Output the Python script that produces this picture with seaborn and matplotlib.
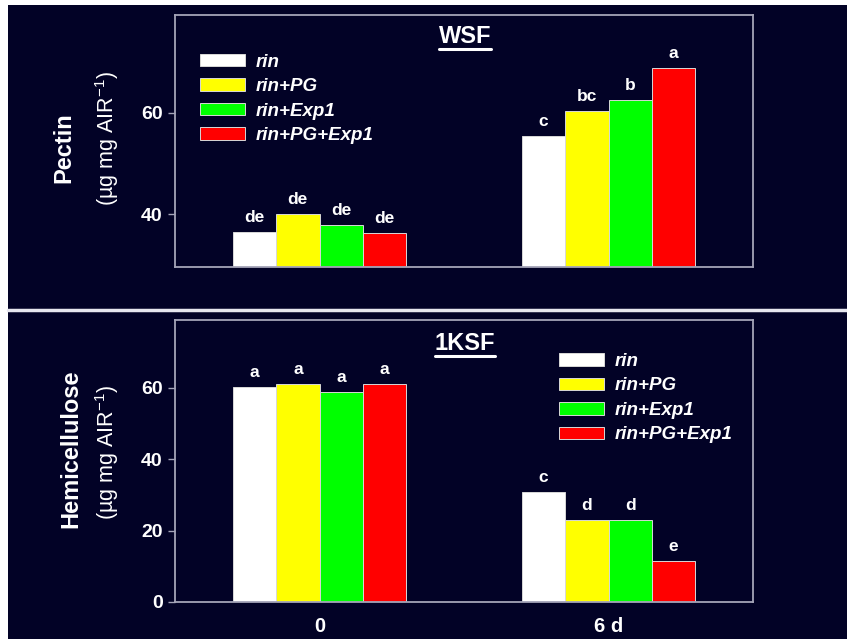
import matplotlib
matplotlib.use("Agg")
import matplotlib.pyplot as plt
import numpy as np
import pandas as pd
import seaborn as sns
from matplotlib.lines import Line2D
from matplotlib.patches import Rectangle

# data
days = ["0", "6 d"]
genotypes = ["rin", "rin+PG", "rin+Exp1", "rin+PG+Exp1"]
pectin_0 = [36.5, 40.1, 37.8, 36.4]
pectin_6d = [55.5, 60.3, 62.6, 68.8]
pectin_letters = [["de", "c"], ["de", "bc"], ["de", "b"], ["de", "a"]]
hemi_0 = [60.3, 61.0, 58.9, 61.1]
hemi_6d = [30.8, 22.9, 22.9, 11.5]
hemi_letters = [["a", "c"], ["a", "d"], ["a", "d"], ["a", "e"]]

colors = ["#ffffff", "#ffff00", "#00ff00", "#ff0000"]
bg = "#020226"
spine_c = "#a4a4b8"

sns.set_style("ticks")
plt.rcParams["font.family"] = ["Liberation Sans", "DejaVu Sans"]
plt.rcParams["mathtext.fontset"] = "custom"
plt.rcParams["mathtext.rm"] = "Liberation Sans"


def long_table(v0, v6):
    rows = []
    for g, a, b in zip(genotypes, v0, v6):
        rows.append({"day": days[0], "genotype": g, "value": a})
        rows.append({"day": days[1], "genotype": g, "value": b})
    return pd.DataFrame(rows)


fig = plt.figure(figsize=(8.47, 6.39), dpi=100)
fig.patch.set_facecolor("white")
fig.patches.append(Rectangle((8 / 847, 0), 1, 634 / 639, transform=fig.transFigure,
                             facecolor=bg, edgecolor="none", zorder=-10))
fig.lines.append(Line2D([8 / 847, 1], [1 - 310 / 639] * 2, transform=fig.transFigure,
                        color="#e6e6ee", lw=2.5))

ax1 = fig.add_axes([175 / 847, 1 - 267 / 639, 578 / 847, 252 / 639])
ax2 = fig.add_axes([175 / 847, 1 - 602 / 639, 578 / 847, 282 / 639])


def draw_panel(ax, df, letters, ylim, yticks, title, title_y, leg_anchor):
    sns.barplot(data=df, x="day", y="value", hue="genotype", order=days,
                hue_order=genotypes, palette=colors, width=0.6, gap=0,
                edgecolor="#d8d8d8", linewidth=0.7, saturation=1, ax=ax)
    ax.set_facecolor(bg)
    ax.set_ylim(*ylim)
    ax.set_xlim(-0.5, 1.5)
    ax.set_yticks(yticks)
    ax.set_xlabel("")
    ax.set_ylabel("")
    for s in ax.spines.values():
        s.set_color(spine_c)
        s.set_linewidth(1.3)
    ax.tick_params(axis="y", colors=spine_c, length=5, width=1, labelsize=14, pad=4)
    ax.tick_params(axis="x", length=0, labelsize=14.5, pad=11)
    for lbl in ax.get_yticklabels() + ax.get_xticklabels():
        lbl.set_color("white")
        lbl.set_fontweight("bold")
    for cont, labs in zip(ax.containers, letters):
        ax.bar_label(cont, labels=labs, padding=5, color="white",
                     fontweight="bold", fontsize=12.5)
    handles, labels = ax.get_legend_handles_labels()
    leg = ax.legend(handles, labels, loc="upper left", bbox_to_anchor=leg_anchor,
                    frameon=False, borderaxespad=0, borderpad=0,
                    handlelength=2.4, handleheight=0.64, handletextpad=0.6,
                    labelspacing=0.4, prop={"size": 13.5, "weight": "bold",
                                            "style": "italic"})
    for t in leg.get_texts():
        t.set_color("white")
    t = ax.text(0.502, title_y, title, transform=ax.transAxes, ha="center",
                va="center", color="white", fontsize=17, fontweight="bold")
    return t


t1 = draw_panel(ax1, long_table(pectin_0, pectin_6d), pectin_letters, (29.6, 79.3),
                [40, 60], "WSF", 0.915, (0.043, 0.847))
ax1.set_xticklabels([])
t2 = draw_panel(ax2, long_table(hemi_0, hemi_6d), hemi_letters, (0, 79),
                [0, 20, 40, 60], "1KSF", 0.915, (0.664, 0.883))

# y axis labels, two lines each
fig.text(64 / 847, 1 - 148 / 639, "Pectin", rotation=90, ha="center", va="center",
         color="white", fontsize=17, fontweight="bold")
fig.text(107 / 847, 1 - 139 / 639, r"(µg mg AIR$^{-1}$)", rotation=90, ha="center",
         va="center", color="white", fontsize=15.5)
fig.text(71 / 847, 1 - 449 / 639, "Hemicellulose", rotation=90, ha="center",
         va="center", color="white", fontsize=17, fontweight="bold")
fig.text(107 / 847, 1 - 453 / 639, r"(µg mg AIR$^{-1}$)", rotation=90, ha="center",
         va="center", color="white", fontsize=15.5)

# underline the panel titles
fig.canvas.draw()
renderer = fig.canvas.get_renderer()
W, H = fig.bbox.width, fig.bbox.height
for t in (t1, t2):
    bb = t.get_window_extent(renderer)
    y = (bb.y0 - 1) / H
    fig.lines.append(Line2D([bb.x0 / W, bb.x1 / W], [y, y], transform=fig.transFigure,
                            color="white", lw=2.2))

fig.savefig("out.png", dpi=100, facecolor=fig.get_facecolor())
